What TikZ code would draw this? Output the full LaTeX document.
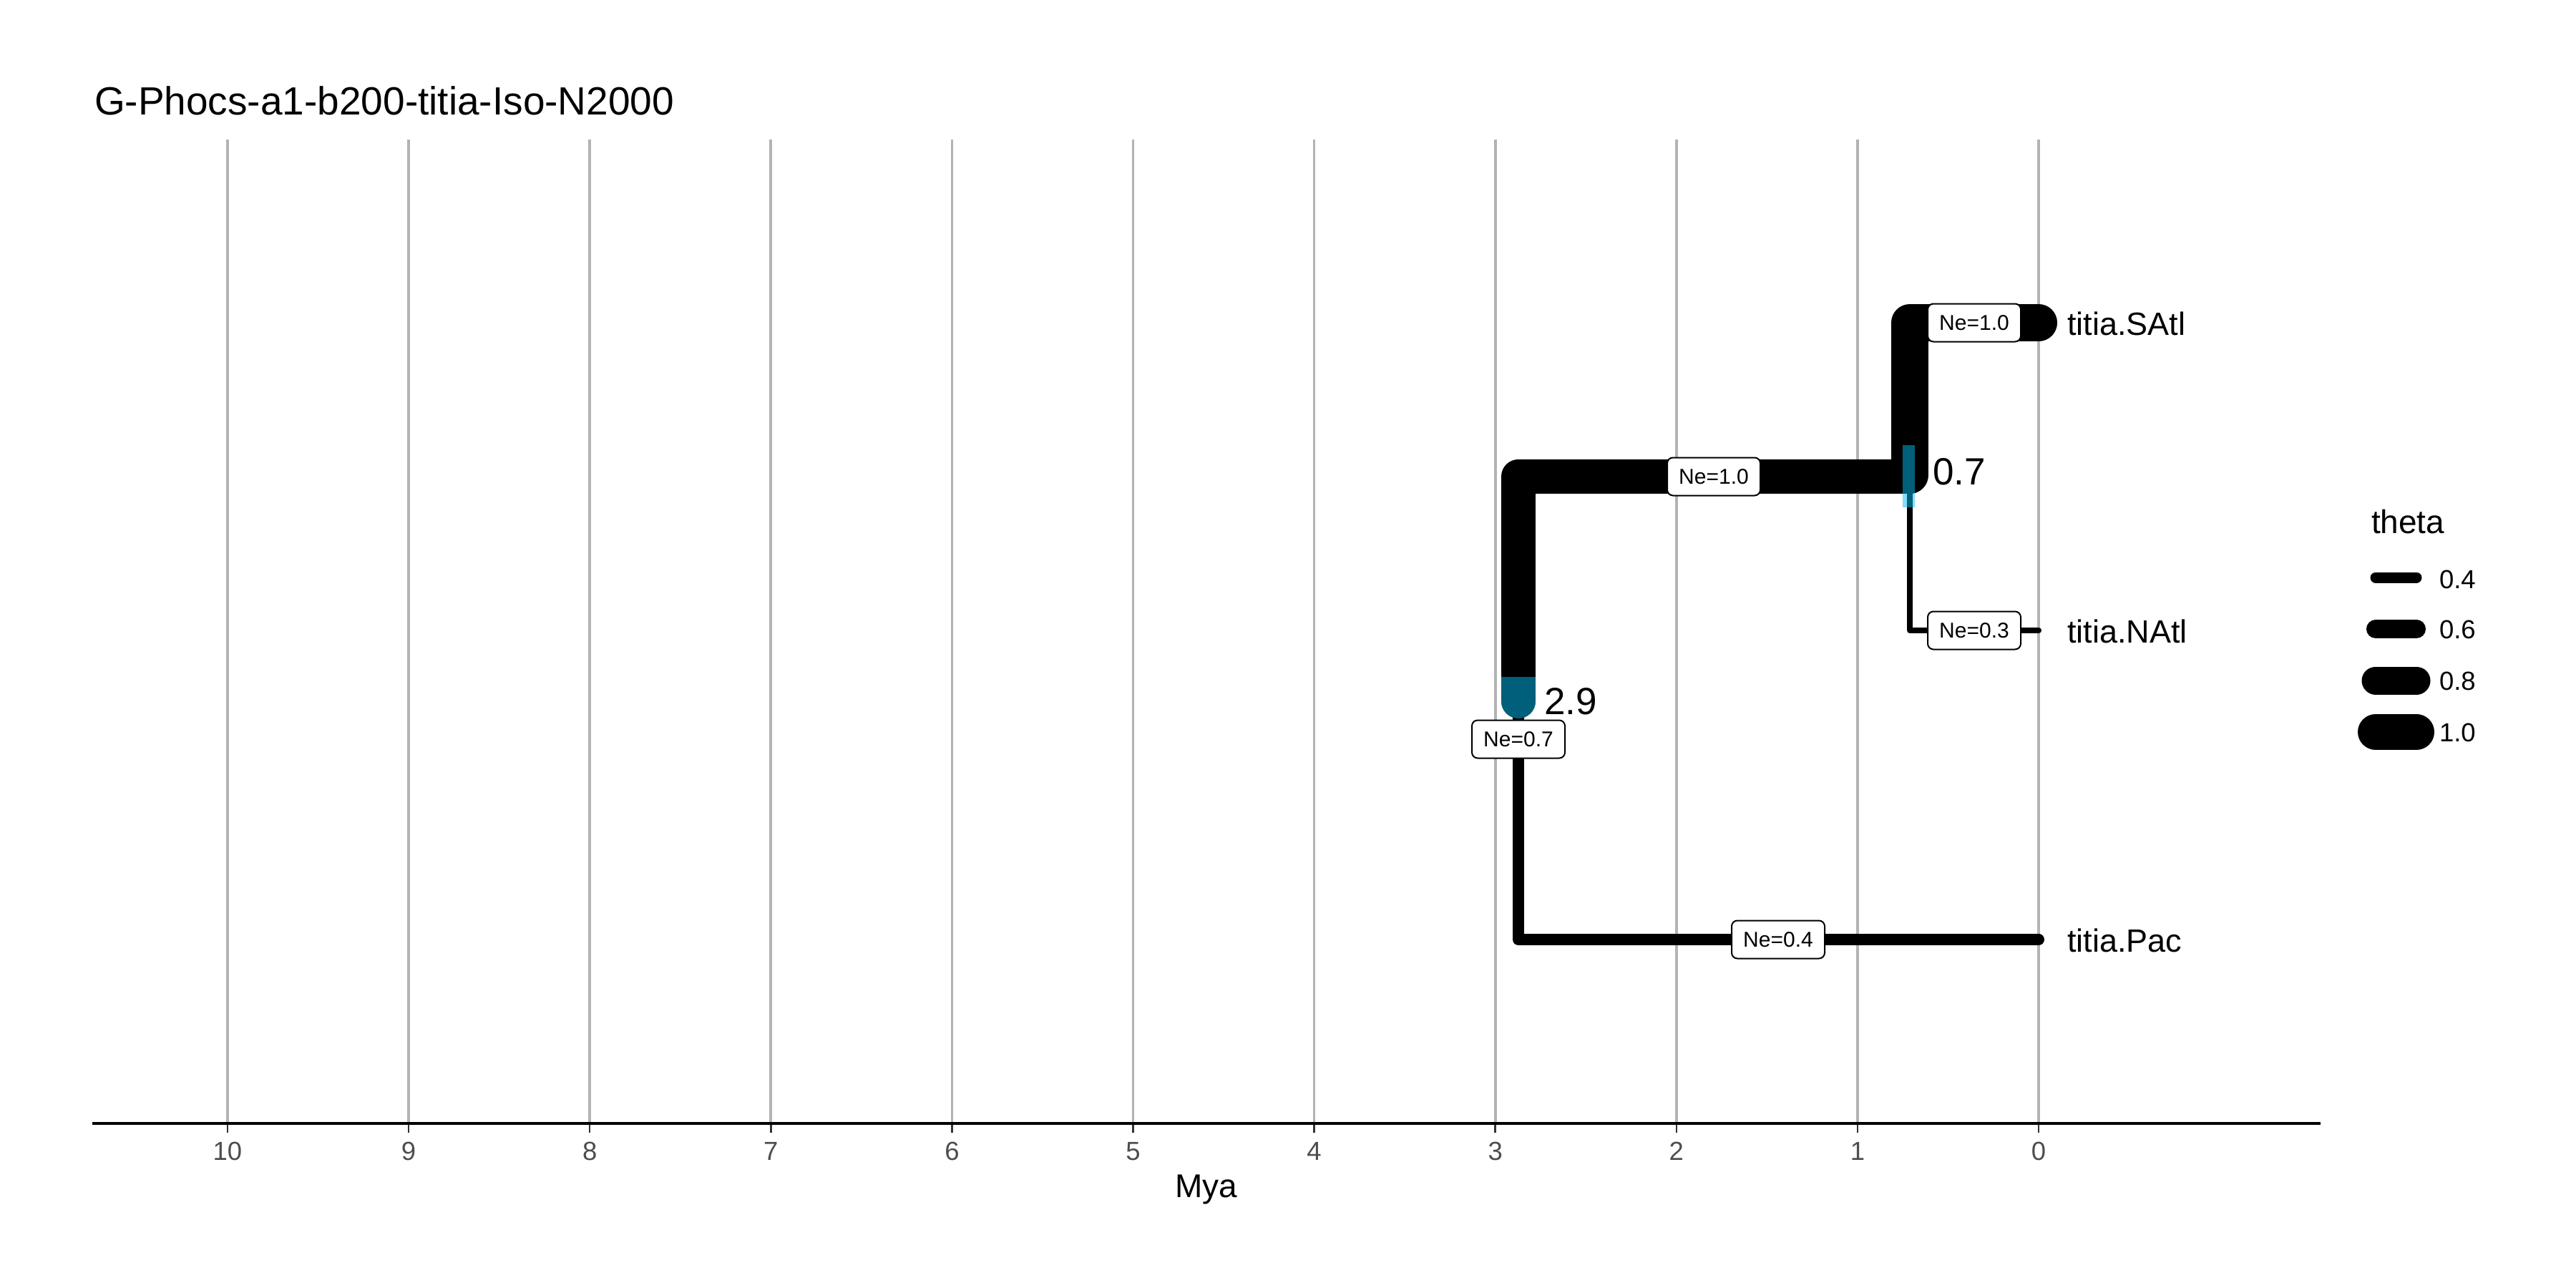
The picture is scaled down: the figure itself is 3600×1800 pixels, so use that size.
\documentclass[tikz,border=0pt]{standalone}
\usepackage{fontspec}
\setmainfont{Liberation Sans}
\definecolor{gridgray}{HTML}{B3B3B3}
\definecolor{tickgray}{HTML}{4D4D4D}
\definecolor{tickline}{HTML}{333333}
\definecolor{barblue}{RGB}{0,190,245}
\begin{document}
\begin{tikzpicture}[x=0.2pt,y=-0.2pt,
  branch/.style={draw=black,line cap=round,line join=round},
  gridline/.style={draw=gridgray,line width=0.75pt},
  nebox/.style={draw=black,fill=white,rounded corners=1.6pt,line width=0.4pt,
    minimum width=26pt,minimum height=10.6pt,inner sep=0pt,font=\fontsize{6}{7}\selectfont},
  tiplabel/.style={anchor=base west,inner sep=0pt,font=\fontsize{9}{10}\selectfont},
  agelabel/.style={anchor=base west,inner sep=0pt,font=\fontsize{10.6}{12}\selectfont},
  ticklabel/.style={anchor=base,inner sep=0pt,text=tickgray,font=\fontsize{7.3}{8}\selectfont},
  legtitle/.style={anchor=base west,inner sep=0pt,font=\fontsize{9.2}{11}\selectfont},
  legtext/.style={anchor=base west,inner sep=0pt,font=\fontsize{7.3}{8}\selectfont},
  legkey/.style={draw=black,line cap=round},
  hpdbar/.style={fill=barblue,fill opacity=0.5}]
\useasboundingbox (0,0) rectangle (3600,1800);
% grid lines, ticks and tick labels
\foreach \k in {0,...,10}{
  \draw[gridline] ({2849-253.1*\k},195) -- ({2849-253.1*\k},1570);
  \draw[tickline,line width=0.5pt] ({2849-253.1*\k},1570) -- ({2849-253.1*\k},1583);
  \node[ticklabel] (tick\k) at ({2849-253.1*\k},1621) {\k};
}
\draw[black,line width=0.9pt] (129,1570) -- (3243,1570);
\node[anchor=base,inner sep=0pt,font=\fontsize{9.2}{11}\selectfont] (xtitle) at (1686,1673) {Mya};
% title
\node[anchor=base west,inner sep=0pt,font=\fontsize{11}{13}\selectfont] (title) at (131,160) {G-Phocs-a1-b200-titia-Iso-N2000};
% tree coordinates
\coordinate (sat) at (2849,451);
\coordinate (nat) at (2849,881);
\coordinate (pac) at (2849,1313);
\coordinate (n07) at (2669,666);
\coordinate (n07s) at (2669,664);
\coordinate (n29) at (2122,980);
\coordinate (n29b) at (2122,1003);
% branches
\draw[branch,line width=3.2pt] (n29b) |- (pac);
\draw[branch,line width=1.6pt] (n07) |- (nat);
\draw[branch,line width=9.6pt] (n07) -| (n29);
\draw[branch,line width=10.4pt] (sat) -| (n07s);
% HPD bars
\begin{scope}
  \clip (2090,946) rectangle (2160,1010);
  \draw[barblue,opacity=0.5,line width=9.6pt,line cap=round] (2122,930) -- (n29);
\end{scope}
\fill[hpdbar] (2659,622) rectangle (2676,709);
% Ne labels
\node[nebox] (nesat) at (2759,451) {Ne=1.0};
\node[nebox] (neanc) at (2395,666) {Ne=1.0};
\node[nebox] (nenat) at (2759,881) {Ne=0.3};
\node[nebox] (neroot) at (2122,1033) {Ne=0.7};
\node[nebox] (nepac) at (2485,1313) {Ne=0.4};
% ages
\node[agelabel] (age07) at (2700,677) {0.7};
\node[agelabel] (age29) at (2157,998) {2.9};
% tip labels
\node[tiplabel] (tsat) at (2888,468) {titia.SAtl};
\node[tiplabel] (tnat) at (2888,898) {titia.NAtl};
\node[tiplabel] (tpac) at (2888,1330) {titia.Pac};
% legend
\node[legtitle] (legt) at (3313,745) {theta};
\draw[legkey,line width=3pt] (3320,807) -- (3377,807);
\draw[legkey,line width=5.2pt] (3320,879) -- (3377,879);
\draw[legkey,line width=7.8pt] (3320,951) -- (3377,951);
\draw[legkey,line width=10pt] (3320,1023) -- (3377,1023);
\node[legtext] (l04) at (3408,822) {0.4};
\node[legtext] (l06) at (3408,892) {0.6};
\node[legtext] (l08) at (3408,964) {0.8};
\node[legtext] (l10) at (3408,1036) {1.0};
\end{tikzpicture}
\end{document}
